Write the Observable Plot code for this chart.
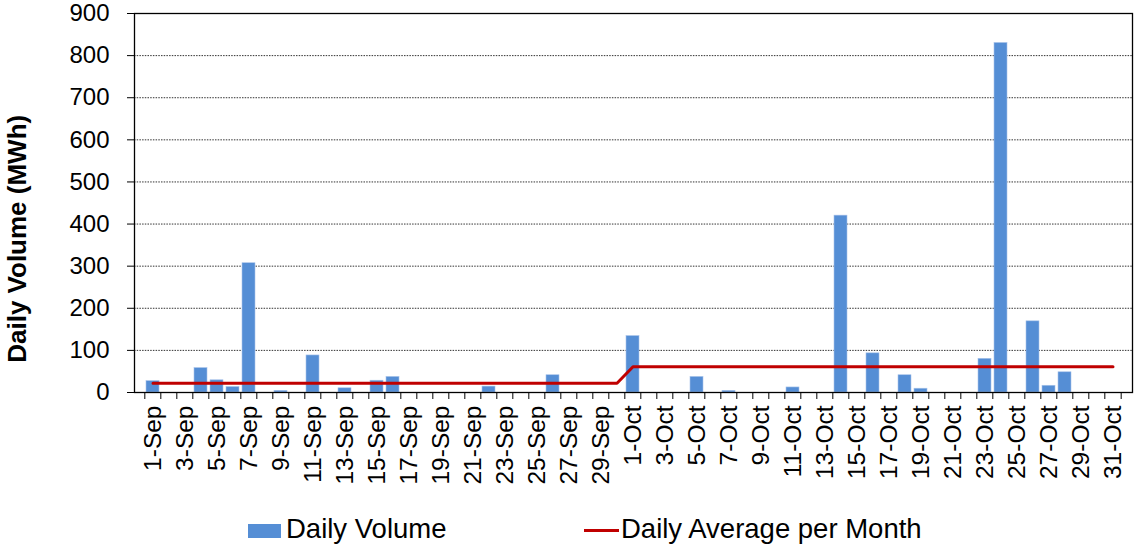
<!DOCTYPE html>
<html>
<head>
<meta charset="utf-8">
<script src="https://cdn.jsdelivr.net/npm/d3@7"></script>
<script src="https://cdn.jsdelivr.net/npm/@observablehq/plot@0.6"></script>
<style>
  body { margin: 0; background: #fff; font-family: "Liberation Sans", Arial, sans-serif; }
  #wrap { position: relative; width: 1135px; height: 546px; }
  #chart svg [aria-label="y-axis tick label"] { font-size: 24px; }
  #chart svg [aria-label="x-axis tick label"] { font-size: 24.5px; }
  #legend { position: absolute; top: 510px; left: 0; width: 1135px; height: 36px; font-size: 27.5px; color: #000; }
  .sw { position: absolute; }
  .lt { position: absolute; top: 3px; line-height: 32px; white-space: nowrap; }
</style>
</head>
<body>
<div id="wrap">
  <div id="chart"></div>
  <div id="legend">
    <div class="sw" style="left:248px; top:14px; width:33px; height:14px; background:#558ed5;"></div>
    <div class="lt" style="left:286px;">Daily Volume</div>
    <div class="sw" style="left:584px; top:19px; width:35px; height:2.5px; background:#c00000;"></div>
    <div class="lt" style="left:621px;">Daily Average per Month</div>
  </div>
</div>
<script>
const sepDays = d3.range(1, 31).map(d => `${d}-Sep`);
const octDays = d3.range(1, 32).map(d => `${d}-Oct`);
const sepVolume = [27,0,0,58,29,13,307,0,4,0, 88,0,10,0,28,37,0,0,0,0, 0,14,0,0,0,41,0,0,0,0];
const octVolume = [134,0,0,0,37,0,4,0,0,0, 12,0,0,420,0,93,0,41,9,0, 0,0,80,830,0,169,16,48,0,0, 0];
const sepAverage = 22;
const octAverage = 61;
const yTicks = [0,100,200,300,400,500,600,700,800,900];

const days = [...sepDays, ...octDays];
const volumes = [...sepVolume, ...octVolume];
const averages = [...sepDays.map(() => sepAverage), ...octDays.map(() => octAverage)];
const rows = days.map((d, i) => ({day: d, volume: volumes[i], avg: averages[i]}));

const W = 1135, ML = 134, MR = 3;
const step = (W - ML - MR) / days.length;

const chart = Plot.plot({
  width: W,
  height: 500,
  marginLeft: ML,
  marginRight: MR,
  marginTop: 13,
  marginBottom: 108,
  style: {fontFamily: "'Liberation Sans', Arial, sans-serif", color: "#000", background: "#fff"},
  x: {type: "band", domain: days, paddingInner: 0.18, paddingOuter: 0.09},
  y: {domain: [0, 900]},
  marks: [
    Plot.ruleY(yTicks.filter(d => d > 0 && d < 900), {stroke: "#333", strokeDasharray: "1.5,1.2", strokeWidth: 1}),
    Plot.barY(rows.filter(r => r.volume > 0), {x: "day", y: "volume", fill: "#558ed5", stroke: "#a9c4ea", strokeWidth: 0.6}),
    Plot.line(rows, {x: "day", y: "avg", stroke: "#c00000", strokeWidth: 3}),
    Plot.frame({stroke: "#000", strokeWidth: 1.3}),
    Plot.axisY({ticks: yTicks, tickSize: 7, tickPadding: 18, label: null}),
    Plot.axisX({ticks: days, tickSize: 7, dx: -step / 2, tickFormat: () => "", label: null}),
    Plot.axisX({ticks: [days[days.length - 1]], tickSize: 7, dx: step / 2, tickFormat: () => "", label: null}),
    Plot.axisX({ticks: days, tickSize: 0, tickPadding: 13, tickRotate: -90,
      tickFormat: d => (+d.split("-")[0]) % 2 === 1 ? d : "", label: null}),
    Plot.text(["Daily Volume (MWh)"], {frameAnchor: "left", y: () => 365, dx: -117, rotate: -90,
      fontWeight: "bold", fontSize: 26, textAnchor: "middle"})
  ]
});
document.getElementById("chart").appendChild(chart);
</script>
</body>
</html>
